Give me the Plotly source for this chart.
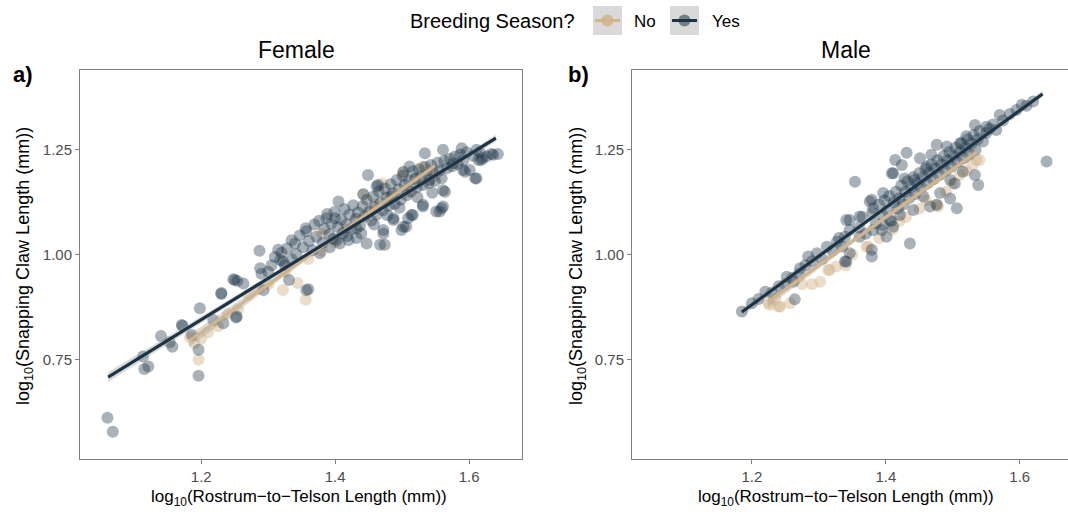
import plotly.graph_objects as go

W, H = 1068, 512

# ---------------- data ----------------
female_yes = [
    (1.060, 0.612), (1.068, 0.579), (1.115, 0.728), (1.121, 0.734), (1.113, 0.758),
    (1.140, 0.807), (1.157, 0.781), (1.153, 0.792), (1.172, 0.831), (1.196, 0.712),
    (1.196, 0.774), (1.198, 0.873), (1.218, 0.845), (1.230, 0.909), (1.233, 0.837),
    (1.252, 0.851), (1.248, 0.942), (1.254, 0.938), (1.263, 0.932), (1.287, 1.010),
    (1.288, 0.968), (1.293, 0.916), (1.315, 1.012), (1.318, 0.988), (1.331, 0.940),
    (1.335, 1.035), (1.357, 0.916), (1.377, 1.004), (1.405, 1.127), (1.402, 1.035),
    (1.420, 1.035), (1.432, 1.040), (1.449, 1.190), (1.447, 1.027), (1.467, 1.024),
    (1.472, 1.051), (1.462, 1.163), (1.487, 1.087), (1.502, 1.067), (1.509, 1.087),
    (1.514, 1.095), (1.531, 1.119), (1.534, 1.242), (1.556, 1.103), (1.559, 1.111),
    (1.561, 1.250), (1.564, 1.150), (1.589, 1.254), (1.591, 1.202), (1.601, 1.202),
    (1.611, 1.182), (1.614, 1.226), (1.620, 1.230), (1.636, 1.238), (1.643, 1.240),
    (1.611, 1.250), (1.633, 1.240), (1.618, 1.226), (1.594, 1.198), (1.609, 1.182),
    (1.171, 0.833), (1.186, 0.809), (1.250, 0.940), (1.230, 0.907), (1.253, 0.853),
    (1.322, 0.984), (1.340, 1.027), (1.357, 1.056), (1.387, 1.087), (1.407, 1.027),
    (1.360, 0.918), (1.464, 1.166), (1.502, 1.198), (1.561, 1.154), (1.561, 1.115),
    (1.551, 1.103), (1.531, 1.115), (1.516, 1.095), (1.506, 1.067), (1.499, 1.059),
    (1.487, 1.083), (1.472, 1.059), (1.474, 1.024), (1.439, 1.051), (1.400, 1.087),
    (1.442, 1.144), (1.484, 1.139), (1.541, 1.178), (1.511, 1.210), (1.576, 1.218),
    (1.310, 0.995), (1.320, 1.005), (1.328, 1.015), (1.335, 0.990), (1.305, 0.975),
    (1.325, 0.975), (1.300, 0.960), (1.290, 0.955), (1.342, 1.002), (1.347, 1.046),
    (1.352, 1.018), (1.356, 1.063), (1.361, 1.033), (1.366, 1.011), (1.369, 1.072),
    (1.372, 1.043), (1.376, 1.081), (1.381, 1.028), (1.384, 1.062), (1.388, 1.097),
    (1.391, 1.049), (1.394, 1.074), (1.397, 1.038), (1.399, 1.102), (1.404, 1.066),
    (1.409, 1.084), (1.411, 1.051), (1.414, 1.109), (1.417, 1.073), (1.421, 1.096),
    (1.424, 1.061), (1.427, 1.118), (1.431, 1.086), (1.434, 1.101), (1.437, 1.069),
    (1.441, 1.116), (1.444, 1.091), (1.447, 1.131), (1.451, 1.104), (1.454, 1.082),
    (1.457, 1.139), (1.459, 1.114), (1.462, 1.096), (1.465, 1.151), (1.468, 1.124),
    (1.471, 1.106), (1.474, 1.158), (1.477, 1.136), (1.480, 1.117), (1.483, 1.168),
    (1.486, 1.146), (1.489, 1.121), (1.492, 1.178), (1.495, 1.156), (1.498, 1.131),
    (1.501, 1.188), (1.504, 1.166), (1.507, 1.142), (1.510, 1.176), (1.513, 1.151),
    (1.516, 1.199), (1.519, 1.181), (1.522, 1.161), (1.525, 1.204), (1.528, 1.186),
    (1.531, 1.166), (1.534, 1.209), (1.537, 1.191), (1.540, 1.171), (1.543, 1.214),
    (1.546, 1.196), (1.549, 1.176), (1.553, 1.219), (1.556, 1.201), (1.559, 1.182),
    (1.563, 1.224), (1.567, 1.206), (1.571, 1.229), (1.575, 1.211), (1.579, 1.234),
    (1.583, 1.216), (1.587, 1.239), (1.591, 1.224), (1.596, 1.244), (1.606, 1.236),
    (1.616, 1.244), (1.626, 1.234), (1.523, 1.137), (1.496, 1.112), (1.458, 1.072),
    (1.418, 1.045), (1.545, 1.148), (1.478, 1.094), (1.432, 1.063), (1.392, 1.018),
]
female_no = [
    (1.183, 0.804), (1.190, 0.790), (1.196, 0.750), (1.200, 0.800), (1.210, 0.815),
    (1.225, 0.830), (1.240, 0.860), (1.255, 0.870), (1.270, 0.905), (1.285, 0.920),
    (1.300, 0.930), (1.322, 0.916), (1.325, 0.960), (1.344, 0.933), (1.356, 0.893),
    (1.360, 0.990), (1.380, 1.010), (1.400, 1.030), (1.415, 1.060), (1.430, 1.080),
    (1.442, 1.144), (1.450, 1.100), (1.460, 1.120), (1.480, 1.140), (1.501, 1.195),
    (1.510, 1.150), (1.520, 1.180), (1.540, 1.200), (1.550, 1.190), (1.530, 1.210),
    (1.470, 1.170), (1.380, 1.050),
]
male_yes = [
    (1.185, 0.865), (1.220, 0.912), (1.264, 0.894), (1.262, 0.936), (1.284, 0.996),
    (1.272, 0.968), (1.297, 1.004), (1.312, 1.019), (1.327, 1.031), (1.339, 0.984),
    (1.346, 1.083), (1.354, 1.174), (1.379, 0.996), (1.376, 1.127), (1.406, 1.083),
    (1.411, 1.194), (1.436, 1.027), (1.424, 1.214), (1.506, 1.111), (1.252, 0.948),
    (1.361, 1.043), (1.394, 1.059), (1.414, 1.226), (1.431, 1.243), (1.451, 1.230),
    (1.409, 1.194), (1.428, 1.182), (1.468, 1.238), (1.496, 1.134), (1.476, 1.119),
    (1.466, 1.115), (1.503, 1.170), (1.533, 1.190), (1.538, 1.166), (1.533, 1.309),
    (1.570, 1.333), (1.603, 1.357), (1.640, 1.222), (1.379, 1.131), (1.396, 1.147),
    (1.361, 1.091), (1.381, 1.111), (1.341, 1.083), (1.346, 1.059), (1.339, 1.043),
    (1.381, 1.059), (1.396, 1.071), (1.411, 1.067), (1.401, 1.043), (1.421, 1.095),
    (1.441, 1.107), (1.456, 1.139), (1.481, 1.147), (1.496, 1.178), (1.515, 1.198),
    (1.520, 1.282), (1.550, 1.305), (1.565, 1.297), (1.511, 1.266), (1.491, 1.258),
    (1.476, 1.262), (1.461, 1.210), (1.443, 1.178), (1.379, 1.012), (1.346, 1.004),
    (1.380, 1.100), (1.385, 1.075), (1.390, 1.120), (1.395, 1.095), (1.398, 1.130),
    (1.402, 1.105), (1.405, 1.140), (1.408, 1.080), (1.412, 1.125), (1.415, 1.150),
    (1.418, 1.110), (1.420, 1.135), (1.423, 1.165), (1.426, 1.120), (1.429, 1.150),
    (1.432, 1.175), (1.435, 1.135), (1.438, 1.160), (1.441, 1.185), (1.444, 1.145),
    (1.447, 1.170), (1.450, 1.195), (1.453, 1.160), (1.456, 1.185), (1.459, 1.205),
    (1.462, 1.170), (1.465, 1.195), (1.468, 1.215), (1.471, 1.180), (1.474, 1.205),
    (1.477, 1.225), (1.480, 1.190), (1.483, 1.215), (1.486, 1.235), (1.489, 1.200),
    (1.492, 1.225), (1.495, 1.245), (1.498, 1.210), (1.501, 1.235), (1.504, 1.255),
    (1.507, 1.220), (1.510, 1.245), (1.513, 1.265), (1.516, 1.230), (1.519, 1.255),
    (1.522, 1.275), (1.525, 1.240), (1.528, 1.265), (1.531, 1.285), (1.534, 1.250),
    (1.537, 1.275), (1.540, 1.295), (1.545, 1.270), (1.550, 1.290), (1.555, 1.300),
    (1.560, 1.310), (1.575, 1.320), (1.585, 1.335), (1.595, 1.345), (1.610, 1.355),
    (1.620, 1.365), (1.360, 1.065), (1.365, 1.090), (1.370, 1.050), (1.330, 1.040),
    (1.335, 1.020), (1.320, 1.010), (1.305, 0.990), (1.290, 0.985), (1.280, 0.975),
    (1.270, 0.955), (1.260, 0.945), (1.250, 0.930), (1.240, 0.925), (1.230, 0.910),
    (1.210, 0.895), (1.200, 0.885), (1.341, 0.984),
]
male_no = [
    (1.225, 0.885), (1.227, 0.881), (1.240, 0.877), (1.242, 0.877), (1.257, 0.885),
    (1.275, 0.930), (1.302, 0.936), (1.314, 0.964), (1.316, 0.964), (1.326, 0.972),
    (1.340, 0.975), (1.371, 1.019), (1.374, 1.019), (1.390, 1.040), (1.410, 1.060),
    (1.430, 1.090), (1.450, 1.110), (1.476, 1.119), (1.478, 1.115), (1.490, 1.150),
    (1.500, 1.170), (1.510, 1.190), (1.520, 1.200), (1.535, 1.226), (1.540, 1.226),
    (1.530, 1.215), (1.460, 1.130), (1.420, 1.080), (1.350, 1.000), (1.290, 0.930),
    (1.235, 0.895),
]

# fitted lines (x, y) and ribbon half-widths
female_yes_fit_x = [1.061, 1.350, 1.640]
female_yes_fit_y = [0.709, 0.993, 1.278]
female_yes_half = [0.012, 0.004, 0.008]
female_no_fit_x = [1.182, 1.366, 1.549]
female_no_fit_y = [0.795, 1.004, 1.212]
female_no_half = [0.015, 0.006, 0.010]
male_yes_fit_x = [1.185, 1.410, 1.634]
male_yes_fit_y = [0.864, 1.124, 1.383]
male_yes_half = [0.010, 0.003, 0.008]
male_no_fit_x = [1.224, 1.380, 1.536]
male_no_fit_y = [0.888, 1.067, 1.245]
male_no_half = [0.012, 0.005, 0.010]

x_tick_vals = [1.2, 1.4, 1.6]
x_tick_text = ["1.2", "1.4", "1.6"]
y_tick_vals = [0.75, 1.00, 1.25]
y_tick_text = ["0.75", "1.00", "1.25"]
panel_titles = ["Female", "Male"]
panel_tags = ["a)", "b)"]
legend_title = "Breeding Season?"
legend_labels = ["No", "Yes"]

# ---------------- styles ----------------
TAN = "#D2B48C"
NAVY = "#1C3446"
TAN_PT = "rgba(210,180,140,0.45)"
NAVY_PT = "rgba(28,52,70,0.38)"
RIBBON = "rgba(150,150,150,0.35)"
FONT = "Liberation Sans, Arial, sans-serif"
AXIS_GREY = "#7F7F7F"


def px(x):
    return x / W


def py(y):
    return 1 - y / H


fig = go.Figure()


def add_points(pts, color, xa, ya):
    fig.add_trace(go.Scatter(
        x=[p[0] for p in pts], y=[p[1] for p in pts], mode="markers",
        marker=dict(size=12, color=color, line=dict(width=0)),
        xaxis=xa, yaxis=ya, showlegend=False, hoverinfo="skip"))


def add_fit(fx, fy, half, color, width, xa, ya):
    lo = [y - h for y, h in zip(fy, half)]
    hi = [y + h for y, h in zip(fy, half)]
    fig.add_trace(go.Scatter(
        x=fx + fx[::-1], y=hi + lo[::-1], fill="toself", fillcolor=RIBBON,
        line=dict(width=0), mode="lines", xaxis=xa, yaxis=ya,
        showlegend=False, hoverinfo="skip"))
    fig.add_trace(go.Scatter(
        x=fx, y=fy, mode="lines", line=dict(color=color, width=width),
        xaxis=xa, yaxis=ya, showlegend=False, hoverinfo="skip"))


add_points(female_no, TAN_PT, "x", "y")
add_points(female_yes, NAVY_PT, "x", "y")
add_fit(female_no_fit_x, female_no_fit_y, female_no_half, TAN, 3.2, "x", "y")
add_fit(female_yes_fit_x, female_yes_fit_y, female_yes_half, NAVY, 3.2, "x", "y")

add_points(male_no, TAN_PT, "x2", "y2")
add_points(male_yes, NAVY_PT, "x2", "y2")
add_fit(male_no_fit_x, male_no_fit_y, male_no_half, TAN, 3.2, "x2", "y2")
add_fit(male_yes_fit_x, male_yes_fit_y, male_yes_half, NAVY, 3.2, "x2", "y2")

y_dom = [py(459), py(70)]
y_rng = [0.514, 1.440]

common_x = dict(tickvals=x_tick_vals, ticktext=x_tick_text, ticks="outside", ticklen=4,
                tickcolor=AXIS_GREY, tickwidth=1, showgrid=False, zeroline=False,
                showline=True, linecolor=AXIS_GREY, linewidth=1,
                tickfont=dict(family=FONT, size=15, color="#4D4D4D"))
common_y = dict(tickvals=y_tick_vals, ticktext=y_tick_text, ticks="outside", ticklen=4,
                tickcolor=AXIS_GREY, tickwidth=1, showgrid=False, zeroline=False,
                showline=True, linecolor=AXIS_GREY, linewidth=1,
                tickfont=dict(family=FONT, size=15, color="#4D4D4D"), range=y_rng,
                domain=y_dom)

fig.update_layout(
    width=W, height=H, margin=dict(l=0, r=0, t=0, b=0),
    paper_bgcolor="white", plot_bgcolor="white", showlegend=False,
    font=dict(family=FONT),
    xaxis=dict(common_x, domain=[px(80), px(522)], range=[1.019, 1.679], mirror=True, anchor="y"),
    yaxis=dict(common_y, mirror=True, anchor="x"),
    xaxis2=dict(common_x, domain=[px(632), 1.0], range=[1.021, 1.672], mirror=True, anchor="y2"),
    yaxis2=dict(common_y, mirror=False, anchor="x2"),
)

ann = []
# panel titles and tags
ann.append(dict(x=px(296), y=py(50), text=panel_titles[0], font=dict(size=23, color="black")))
ann.append(dict(x=px(846), y=py(50), text=panel_titles[1], font=dict(size=23, color="black")))
ann.append(dict(x=px(11), y=py(74), text="<b>" + panel_tags[0] + "</b>", xanchor="left",
                font=dict(size=22, color="black")))
ann.append(dict(x=px(566), y=py(74), text="<b>" + panel_tags[1] + "</b>", xanchor="left",
                font=dict(size=22, color="black")))
# axis titles
ytitle = "log<sub>10</sub>(Snapping Claw Length (mm))"
xtitle = "log<sub>10</sub>(Rostrum\u2212to\u2212Telson Length (mm))"
ann.append(dict(x=px(24), y=py(266), text=ytitle, textangle=-90, font=dict(size=18, color="black")))
ann.append(dict(x=px(577), y=py(266), text=ytitle, textangle=-90, font=dict(size=18, color="black")))
ann.append(dict(x=px(299), y=py(498), text=xtitle, font=dict(size=17, color="black")))
ann.append(dict(x=px(846), y=py(498), text=xtitle, font=dict(size=17, color="black")))
# legend texts
ann.append(dict(x=px(577), y=py(21), text=legend_title, xanchor="right", font=dict(size=20, color="black")))
ann.append(dict(x=px(632), y=py(21), text=legend_labels[0], xanchor="left", font=dict(size=17, color="black")))
ann.append(dict(x=px(710), y=py(21), text=legend_labels[1], xanchor="left", font=dict(size=17, color="black")))
for a in ann:
    a.update(xref="paper", yref="paper", showarrow=False)
    a.setdefault("xanchor", "center")
    a.setdefault("yanchor", "middle")
fig.update_layout(annotations=ann)

# legend keys (grey boxes with line + dot)
shapes = []
for x0, col, ptcol in [(593, TAN, "rgba(210,180,140,0.9)"), (670, NAVY, "rgba(28,52,70,0.55)")]:
    shapes.append(dict(type="rect", x0=px(x0), x1=px(x0 + 29), y0=py(35), y1=py(6),
                       fillcolor="#D9D9D9", line=dict(width=0)))
    shapes.append(dict(type="circle", x0=px(x0 + 8.5), x1=px(x0 + 20.5), y0=py(26.5), y1=py(14.5),
                       fillcolor=ptcol, line=dict(width=0)))
    shapes.append(dict(type="line", x0=px(x0 + 2), x1=px(x0 + 27), y0=py(20.5), y1=py(20.5),
                       line=dict(color=col, width=3)))
for s in shapes:
    s.update(xref="paper", yref="paper")
fig.update_layout(shapes=shapes)

fig.write_html("out.html")
